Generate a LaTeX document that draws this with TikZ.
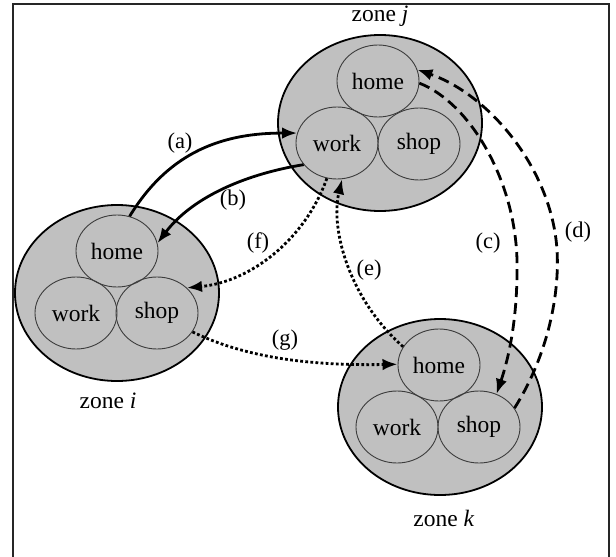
\documentclass[tikz,border=0pt]{standalone}
\usepackage{fontspec}
\setmainfont{Liberation Serif}
\usetikzlibrary{shapes.geometric,arrows.meta}
\definecolor{zonegray}{RGB}{192,192,192}
\definecolor{rimgray}{RGB}{60,60,60}
\begin{document}
\begin{tikzpicture}[x=1pt,y=-1pt,
  zone/.style={ellipse,draw=black,line width=1.8pt,fill=zonegray,
    minimum width=204pt,minimum height=176pt,inner sep=0pt},
  place/.style={ellipse,draw=rimgray,line width=0.9pt,
    minimum width=82pt,minimum height=72pt,inner sep=0pt,
    font=\fontsize{23.5}{26}\selectfont},
  zlabel/.style={font=\fontsize{23.5}{26}\selectfont,anchor=base},
  tag/.style={font=\fontsize{22.5}{25}\selectfont,inner sep=1pt},
  trip/.style={line width=2.8pt,-{Latex[length=15pt,width=11.5pt]}},
  solidtrip/.style={trip},
  dashtrip/.style={trip,dash pattern=on 11pt off 6pt},
  dottrip/.style={trip,dash pattern=on 2.8pt off 2.3pt},
]
\useasboundingbox (0,0) rectangle (616,557);
% outer frame
\draw[line width=1.2pt,black!85] (13,557) -- (13,4) -- (609,4) -- (609,557);

% zones
\node[zone] (zi) at (117,293) {};
\node[zone] (zj) at (380,123) {};
\node[zone] (zk) at (440,407) {};

% activity places in zone i
\node[place] (hi) at (117,251) {home};
\node[place] (wi) at (76,313) {work};
\node[place] (si) at (157,313) {shop};
% zone j
\node[place] (hj) at (378,81) {home};
\node[place] (wj) at (337,143) {work};
\node[place] (sj) at (419,144) {shop};
% zone k
\node[place] (hk) at (439,365) {home};
\node[place] (wk) at (397,427) {work};
\node[place] (sk) at (479,427) {shop};

% zone names
\node[zlabel] (ni) at (108,408) {zone \textit{i}};
\node[zlabel] (nj) at (380,21) {zone \textit{j}};
\node[zlabel] (nk) at (444,526) {zone \textit{k}};

% trips
\draw[solidtrip] (hi.70) .. controls (170,150) and (225,133) .. (wj.166);
\draw[solidtrip] (wj.213) .. controls (240,175) and (190,200) .. (hi.11);
\draw[dottrip] (wj.254) .. controls (305,240) and (250,282) .. (si.40);
\draw[dottrip] (hk.153) .. controls (350,300) and (330,230) .. (wj.278);
\draw[dottrip] (si.-28) .. controls (240,355) and (300,366) .. (hk.179);
\draw[dashtrip] (hj.-3) .. controls (470,103) and (515,180) .. (517,260)
  .. controls (518,320) and (508,360) .. (sk.62);
\draw[dashtrip] (sk.28) .. controls (545,360) and (560,300) .. (557,250)
  .. controls (552,170) and (490,95) .. (hj.16);

% trip tags
\node[tag] (ta) at (180,143) {(a)};
\node[tag] (tb) at (233,200) {(b)};
\node[tag] (tf) at (258,243) {(f)};
\node[tag] (te) at (369,270) {(e)};
\node[tag] (tg) at (285,340) {(g)};
\node[tag] (tc) at (488,243) {(c)};
\node[tag] (td) at (578,232) {(d)};
\end{tikzpicture}
\end{document}
